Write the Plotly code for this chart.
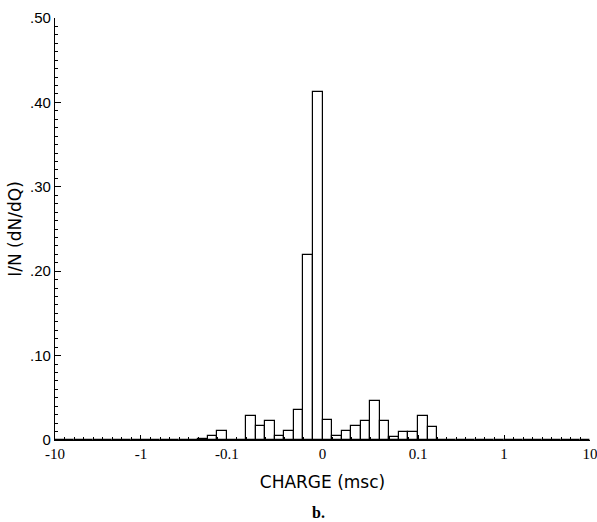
import plotly.graph_objects as go

# Bin edges of the histogram (charge in msc); bins are drawn with equal width
bin_edges = [-10, -9, -8, -7, -6, -5, -4, -3, -2, -1,
             -0.9, -0.8, -0.7, -0.6, -0.5, -0.4, -0.3, -0.2, -0.1,
             -0.09, -0.08, -0.07, -0.06, -0.05, -0.04, -0.03, -0.02, -0.01, 0,
             0.01, 0.02, 0.03, 0.04, 0.05, 0.06, 0.07, 0.08, 0.09, 0.1,
             0.2, 0.3, 0.4, 0.5, 0.6, 0.7, 0.8, 0.9, 1,
             2, 3, 4, 5, 6, 7, 8, 9, 10]

# 1/N dN/dQ for each bin (56 bins)
density = [0, 0, 0, 0, 0, 0, 0, 0, 0,
           0, 0, 0, 0, 0, 0, 0.0015, 0.005, 0.011,
           0, 0, 0.029, 0.017, 0.023, 0.005, 0.011, 0.035, 0.219, 0.412,
           0.024, 0.005, 0.011, 0.017, 0.023, 0.046, 0.023, 0.004, 0.010, 0.010,
           0.028, 0.016, 0, 0, 0, 0, 0, 0, 0,
           0, 0, 0, 0, 0, 0, 0, 0, 0]

x_tick_values = [-10, -1, -0.1, 0, 0.1, 1, 10]
x_tick_labels = ["-10", "-1", "-0.1", "0", "0.1", "1", "10"]
y_tick_values = [0, 0.1, 0.2, 0.3, 0.4, 0.5]
y_tick_labels = ["0", ".10", ".20", ".30", ".40", ".50"]

n_bins = len(bin_edges) - 1
centers = [i + 0.5 for i in range(n_bins)]
x_tick_pos = [bin_edges.index(v) for v in x_tick_values]

fig = go.Figure()
fig.add_trace(go.Bar(
    x=centers, y=density, width=[1] * n_bins,
    marker=dict(color="white", line=dict(color="black", width=1.2)),
    showlegend=False, hoverinfo="skip",
))

fig.update_layout(
    width=597, height=522,
    margin=dict(l=55, r=7, t=18, b=82),
    paper_bgcolor="white", plot_bgcolor="white",
    bargap=0,
    xaxis=dict(
        range=[0, n_bins], showgrid=False, zeroline=False, automargin=False,
        showline=True, linecolor="black", linewidth=1.2,
        tickmode="array", tickvals=x_tick_pos, ticktext=x_tick_labels,
        ticks="inside", ticklen=5, tickcolor="black", tickwidth=1,
        ticklabeloverflow="allow",
        minor=dict(dtick=1, tick0=0, ticks="inside", ticklen=3,
                   tickcolor="black", tickwidth=1),
        tickfont=dict(family="Liberation Serif", size=15, color="black"),
        title=dict(text="CHARGE (msc)", standoff=15,
                   font=dict(family="DejaVu Sans", size=17, color="black")),
    ),
    yaxis=dict(
        range=[0, 0.5], showgrid=False, zeroline=False, automargin=False,
        showline=True, linecolor="black", linewidth=1.2,
        tickmode="array", tickvals=y_tick_values, ticktext=y_tick_labels,
        ticks="inside", ticklen=6, tickcolor="black", tickwidth=1,
        minor=dict(dtick=0.01, tick0=0, ticks="inside", ticklen=3,
                   tickcolor="black", tickwidth=1),
        tickfont=dict(family="Liberation Sans", size=15, color="black"),
        title=dict(text="I/N (dN/dQ)", standoff=4,
                   font=dict(family="DejaVu Sans", size=17, color="black")),
    ),
    annotations=[dict(
        text="<b>b.</b>", xref="paper", yref="paper",
        x=(318 - 55) / 535, y=-(512 - 440) / 422,
        xanchor="center", yanchor="middle", showarrow=False,
        font=dict(family="Liberation Serif", size=16, color="black"),
    )],
)

fig.write_html("out.html")
